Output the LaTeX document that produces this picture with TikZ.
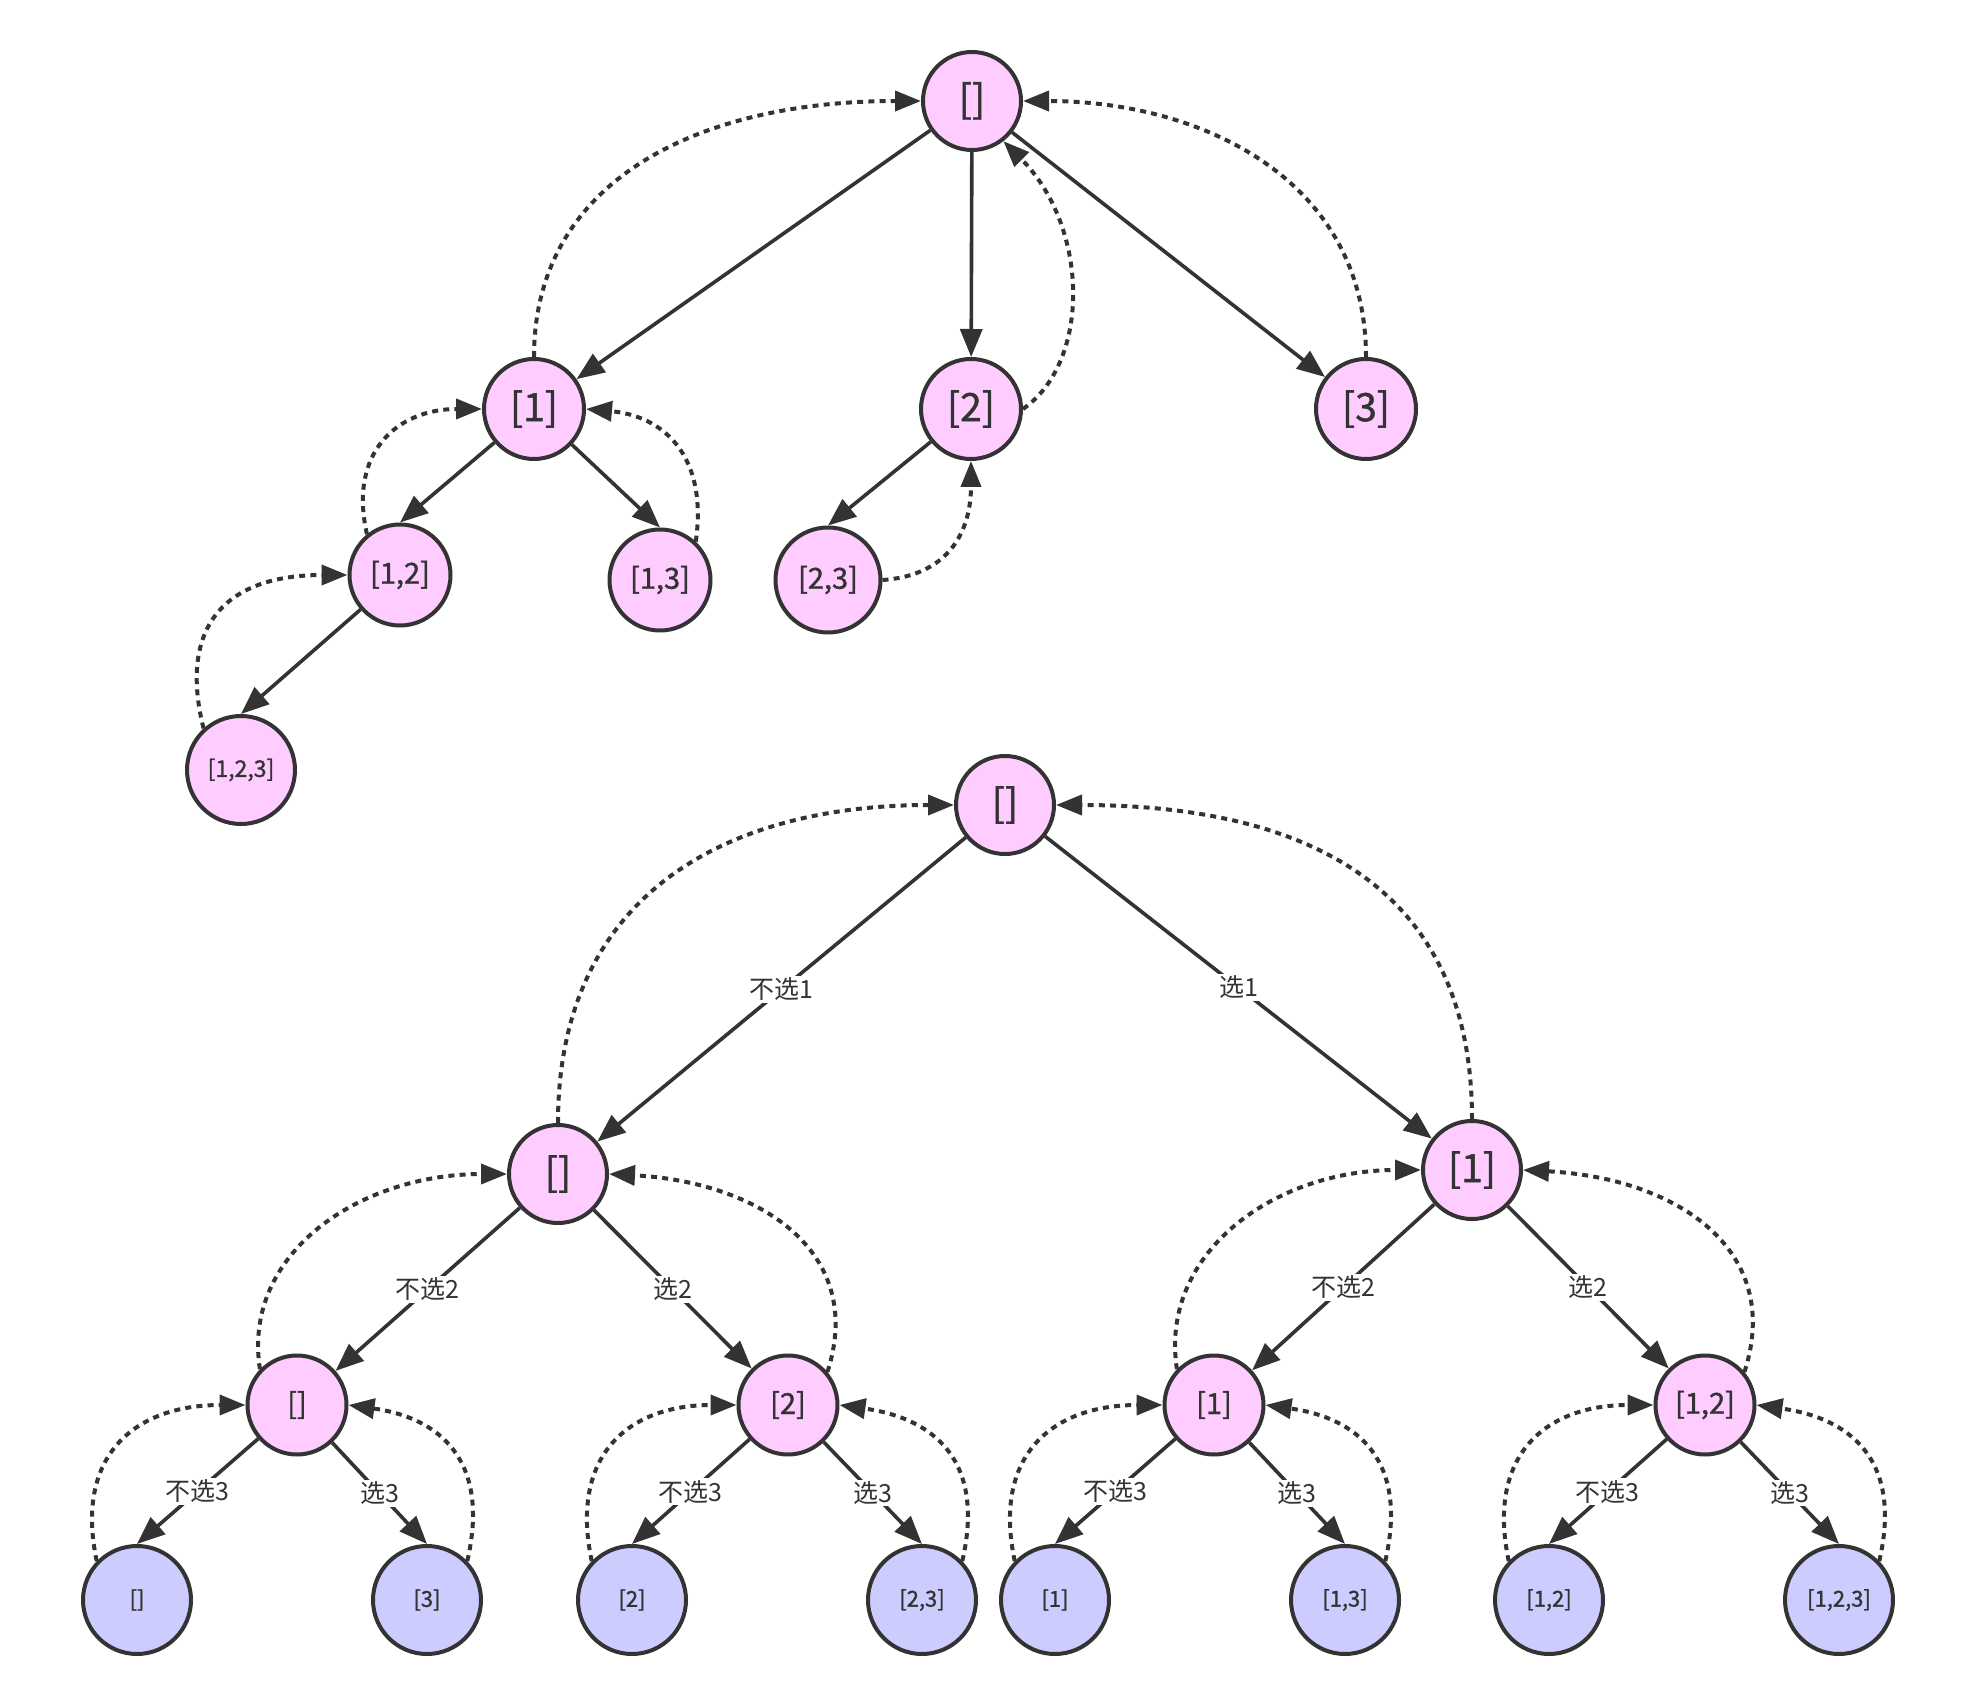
\documentclass[tikz,border=0pt]{standalone}
\usepackage{fontspec}
\setmainfont{Noto Sans CJK SC}
\newfontfamily\nodefont[FakeBold=1.2]{Noto Sans CJK SC}
\usetikzlibrary{arrows.meta}
\definecolor{ink}{HTML}{333333}
\definecolor{pinkfill}{HTML}{FFCCFF}
\definecolor{bluefill}{HTML}{CCCCFF}
\begin{document}
\begin{tikzpicture}[x=0.5pt,y=-0.5pt,
  st/.style={circle, draw=ink, line width=2pt, text=ink, inner sep=0pt},
  pk/.style={st, fill=pinkfill},
  bl/.style={st, fill=bluefill},
  big/.style={minimum size=49pt, font=\nodefont\fontsize{19.5}{19.5}\selectfont},
  mid/.style={minimum size=50.5pt, font=\nodefont\fontsize{14.5}{14.5}\selectfont},
  small/.style={minimum size=54pt, font=\nodefont\fontsize{11.5}{11.5}\selectfont},
  leaf/.style={minimum size=54pt, font=\nodefont\fontsize{11}{11}\selectfont},
  edge/.style={draw=ink, line width=1.8pt, -{Triangle[length=14pt,width=11pt]}},
  back/.style={draw=ink, line width=2pt, dash pattern=on 3pt off 2.6pt, -{Triangle[length=13pt,width=10pt]}},
  lbl/.style={fill=white, text=ink, inner sep=1pt, font=\fontsize{12.5}{12.5}\selectfont}]
\useasboundingbox (0,0) rectangle (1961,1706);
% ---------- top tree ----------
\node[pk,big] (T0) at (972,101) {[]};
\node[pk,big,minimum size=50pt] (T1) at (534,409) {[1]};
\node[pk,big,minimum size=50pt] (T2) at (971,409) {[2]};
\node[pk,big,minimum size=50pt] (T3) at (1366,409) {[3]};
\node[pk,mid] (T12) at (400,575) {[1,2]};
\node[pk,mid] (T13) at (660,580) {[1,3]};
\node[pk,mid,minimum size=52.5pt] (T23) at (828,580) {[2,3]};
\node[pk,small] (T123) at (241,770) {[1,2,3]};
\draw[edge] (T0) -- (T1);
\draw[edge] (T0) -- (T2);
\draw[edge] (T0) -- (T3);
\draw[edge] (T1) -- (T12.north);
\draw[edge] (T1) -- (T13.north);
\draw[edge] (T2) -- (T23.north);
\draw[edge] (T12) -- (T123.north);
\draw[back] (T1.north) to[out=90,in=180,out looseness=0.98,in looseness=1.22] (T0.west);
\draw[back] (T2.east) to[out=35,in=-45,out looseness=0.8,in looseness=1.15] (T0.-52);
\draw[back] (T3.north) to[out=90,in=0,looseness=1.06] (T0.east);
\draw[back] (T12.129) to[out=103,in=180,looseness=1.27] (T1.west);
\draw[back] (T13.47) to[out=82,in=-5,out looseness=1.34,in looseness=1.1] (T1.east);
\draw[back] (T123.132) to[out=104,in=180,out looseness=1.27,in looseness=1.5] (T12.west);
\draw[back] (T23.east) to[out=4,in=-90,looseness=1.18] (T2.south);
% ---------- bottom tree ----------
\node[pk,big] (B0) at (1005,805) {[]};
\node[pk,big] (BL) at (558,1174) {[]};
\node[pk,big] (BR) at (1472,1170) {[1]};
\node[pk,mid,minimum size=49.5pt] (BLL) at (297,1405) {[]};
\node[pk,mid,minimum size=49.5pt] (BLR) at (788,1405) {[2]};
\node[pk,mid,minimum size=49.5pt] (BRL) at (1214,1405) {[1]};
\node[pk,mid,minimum size=49.5pt] (BRR) at (1705,1405) {[1,2]};
\node[bl,leaf] (L1) at (137,1600) {[]};
\node[bl,leaf] (L2) at (427,1600) {[3]};
\node[bl,leaf] (L3) at (632,1600) {[2]};
\node[bl,leaf] (L4) at (922,1600) {[2,3]};
\node[bl,leaf] (L5) at (1055,1600) {[1]};
\node[bl,leaf] (L6) at (1345,1600) {[1,3]};
\node[bl,leaf] (L7) at (1549,1600) {[1,2]};
\node[bl,leaf] (L8) at (1839,1600) {[1,2,3]};
\draw[edge] (B0) -- node[lbl]{不选1} (BL);
\draw[edge] (B0) -- node[lbl]{选1} (BR);
\draw[edge] (BL) -- node[lbl]{不选2} (BLL);
\draw[edge] (BL) -- node[lbl]{选2} (BLR);
\draw[edge] (BR) -- node[lbl]{不选2} (BRL);
\draw[edge] (BR) -- node[lbl]{选2} (BRR);
\draw[edge] (BLL) -- node[lbl]{不选3} (L1.north);
\draw[edge] (BLL) -- node[lbl]{选3} (L2.north);
\draw[edge] (BLR) -- node[lbl]{不选3} (L3.north);
\draw[edge] (BLR) -- node[lbl]{选3} (L4.north);
\draw[edge] (BRL) -- node[lbl]{不选3} (L5.north);
\draw[edge] (BRL) -- node[lbl]{选3} (L6.north);
\draw[edge] (BRR) -- node[lbl]{不选3} (L7.north);
\draw[edge] (BRR) -- node[lbl]{选3} (L8.north);
\draw[back] (BL.north) to[out=90,in=180,looseness=1.15] (B0.west);
\draw[back] (BR.north) to[out=90,in=0,looseness=1.18] (B0.east);
\draw[back] (BLL.136) to[out=99,in=180,out looseness=0.95,in looseness=1.2] (BL.west);
\draw[back] (BLR.40) to[out=72,in=-3,out looseness=1.1,in looseness=1.3] (BL.east);
\draw[back] (BRL.136) to[out=99,in=180,out looseness=0.95,in looseness=1.2] (BR.west);
\draw[back] (BRR.40) to[out=72,in=-3,out looseness=1.1,in looseness=1.3] (BR.east);
\draw[back] (L1.136) to[out=102,in=180,looseness=1.3] (BLL.west);
\draw[back] (L2.44) to[out=77,in=-8,out looseness=1.35,in looseness=1.2] (BLL.east);
\draw[back] (L3.136) to[out=102,in=180,looseness=1.3] (BLR.west);
\draw[back] (L4.44) to[out=77,in=-8,out looseness=1.35,in looseness=1.2] (BLR.east);
\draw[back] (L5.136) to[out=102,in=180,looseness=1.3] (BRL.west);
\draw[back] (L6.44) to[out=77,in=-8,out looseness=1.35,in looseness=1.2] (BRL.east);
\draw[back] (L7.136) to[out=102,in=180,looseness=1.3] (BRR.west);
\draw[back] (L8.44) to[out=77,in=-8,out looseness=1.35,in looseness=1.2] (BRR.east);
\end{tikzpicture}
\end{document}
